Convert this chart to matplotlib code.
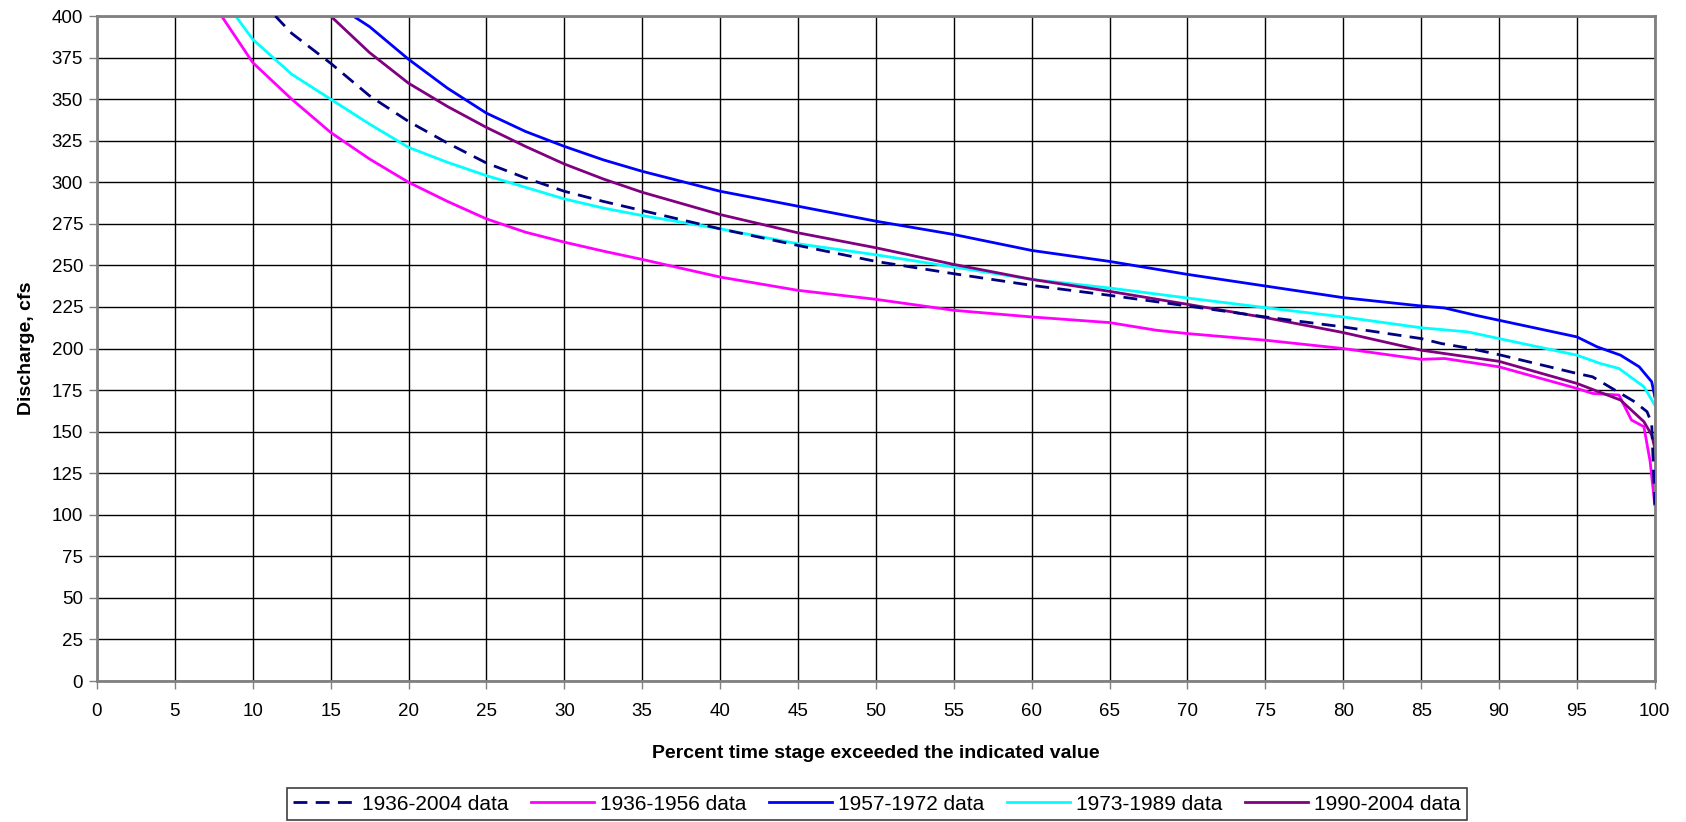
import matplotlib
matplotlib.use("Agg")
import matplotlib.pyplot as plt

plt.rcParams["font.family"] = ["Liberation Sans", "DejaVu Sans"]

# percent exceedance (x) and discharge in cfs (y) for each record period
x_all = [11.45, 12.5, 15, 17.5, 20, 22.5, 25, 27.5, 30, 32.5, 35, 40, 45, 50, 55, 60, 65, 70,
         75, 80, 85, 86.3, 88, 90, 95, 96, 97.8, 98.7, 99.5, 99.8, 100]
y_all = [400, 389.6, 371.6, 352, 336.6, 323.6, 311.6, 302.6, 294.6, 288.5, 283, 272, 262, 252.4,
         245, 238, 232, 225.6, 219, 213, 206, 203, 200.3, 196.3, 185, 183, 173, 168, 162, 155, 106]

x_3656 = [8, 10, 12.5, 15, 17.5, 20, 22.5, 25, 27.5, 30, 32.5, 35, 40, 45, 50, 55, 60, 65, 68,
          70, 75, 80, 85, 86.5, 90, 95, 96, 97.7, 98.5, 99.3, 99.7, 100]
y_3656 = [400, 372, 350, 330, 314, 300, 288.5, 278, 270, 264, 258.6, 253.6, 243, 235, 229.6, 223,
          219, 215.6, 211, 209, 205, 200, 193.5, 194, 189, 176, 173, 172, 157, 153, 132, 106]

x_5772 = [16.45, 17.5, 20, 22.5, 25, 27.5, 30, 32.5, 35, 40, 45, 50, 55, 60, 65, 70, 75, 80,
          85, 86.5, 88.5, 90, 95, 96.3, 97.8, 99, 99.8, 100]
y_5772 = [400, 393.6, 374, 356.6, 341.6, 330.6, 321.6, 313.5, 306.6, 294.6, 285.6, 276.6, 268.6,
          259, 252.4, 244.6, 237.6, 230.6, 225.6, 224.4, 220, 217, 207, 201, 196, 189, 180, 171]

x_7389 = [8.9, 10, 12.5, 15, 17.5, 20, 22.5, 25, 27.5, 30, 32.5, 35, 40, 45, 50, 55, 60, 65,
          70, 75, 80, 85, 88, 90, 95, 96.5, 97.7, 99.3, 100]
y_7389 = [400, 386, 365, 350, 335, 321, 312, 304, 297, 290, 284.5, 280, 272, 263, 256.4, 249,
          241.6, 236.4, 230.4, 224.6, 219, 212.5, 210, 206, 196, 191, 188, 177, 166]

x_9004 = [15, 17.5, 20, 22.5, 25, 27.5, 30, 32.5, 35, 40, 45, 50, 55, 60, 65, 70, 75, 80, 85,
          90, 95, 97.8, 99.3, 99.8, 100]
y_9004 = [400, 378, 359.6, 345.6, 333, 321.6, 311, 302, 294, 280.6, 269.6, 260.6, 250.6, 241.6,
          234.4, 226.6, 218.6, 209.6, 199, 192.3, 179, 169, 156, 148, 140]

fig = plt.figure(figsize=(16.86, 8.22), dpi=100)
ax = fig.add_axes([0.0575, 0.1715, 0.924, 0.809])

ax.plot(x_all, y_all, color="#000080", lw=2, ls=(0, (5, 3)), label="1936-2004 data", zorder=6)
ax.plot(x_3656, y_3656, color="#FF00FF", lw=2, label="1936-1956 data")
ax.plot(x_5772, y_5772, color="#0000FF", lw=2, label="1957-1972 data")
ax.plot(x_7389, y_7389, color="#00FFFF", lw=2, label="1973-1989 data")
ax.plot(x_9004, y_9004, color="#800080", lw=2, label="1990-2004 data")

ax.set_xlim(0, 100)
ax.set_ylim(0, 400)
ax.set_xticks(range(0, 101, 5))
ax.set_yticks(range(0, 401, 25))
ax.grid(color="black", lw=1)
ax.set_axisbelow(True)
for s in ax.spines.values():
    s.set_color("#808080")
    s.set_linewidth(2)
ax.tick_params(direction="out", length=6, width=1, color="#808080", labelsize=13.5, pad=4)
ax.tick_params(axis="x", pad=10)

ax.set_xlabel("Percent time stage exceeded the indicated value", fontweight="bold",
              fontsize=14, labelpad=18)
ax.set_ylabel("Discharge, cfs", fontweight="bold", fontsize=14, labelpad=12)

leg = fig.legend(loc="center", bbox_to_anchor=(877 / 1686, 1 - 804 / 822), ncol=5,
                 fontsize=15, fancybox=False, edgecolor="#404040", framealpha=1,
                 handlelength=3.0, handletextpad=0.3, columnspacing=1.1, borderpad=0.3)
leg.get_frame().set_linewidth(1.2)

fig.savefig("out.png", dpi=100)
